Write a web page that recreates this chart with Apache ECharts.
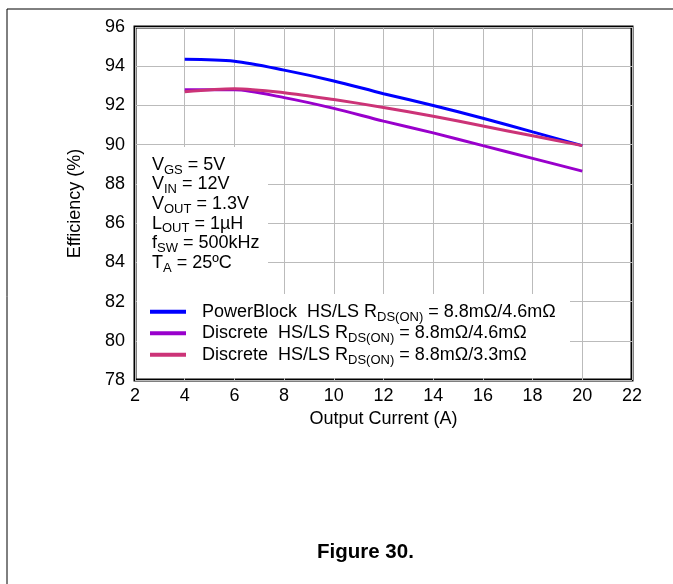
<!DOCTYPE html>
<html>
<head>
<meta charset="utf-8">
<script src="https://cdn.jsdelivr.net/npm/echarts@6/dist/echarts.min.js"></script>
<style>
	html, body { margin: 0; padding: 0; background: #fff; }
	#chart { width: 673px; height: 584px; }
</style>
</head>
<body>
<div id="chart"></div>
<script>
const current = [4, 6, 8, 10, 12, 14, 16, 18, 20];
const powerBlock = [94.35, 94.25, 93.8, 93.25, 92.6, 92.0, 91.35, 90.65, 89.95];
const discrete46 = [92.8, 92.8, 92.4, 91.85, 91.2, 90.6, 89.95, 89.3, 88.65];
const discrete33 = [92.7, 92.85, 92.65, 92.3, 91.9, 91.45, 90.95, 90.45, 89.95];

const seriesNames = ["PowerBlock", "Discrete 4.6", "Discrete 3.3"];
const legendTexts = [
	"PowerBlock  HS/LS R{sub|DS(ON)} = 8.8mΩ/4.6mΩ",
	"Discrete  HS/LS R{sub|DS(ON)} = 8.8mΩ/4.6mΩ",
	"Discrete  HS/LS R{sub|DS(ON)} = 8.8mΩ/3.3mΩ"
];
const conditions = [
	"V{sub|GS} = 5V",
	"V{sub|IN} = 12V",
	"V{sub|OUT} = 1.3V",
	"L{sub|OUT} = 1µH",
	"f{sub|SW} = 500kHz",
	"T{sub|A} = 25ºC"
];

const font = "Liberation Sans, Arial, sans-serif";
const subStyle = lh => ({
	fontSize: 13, fontFamily: font, color: "#000", fill: "#000",
	verticalAlign: "bottom", lineHeight: lh, padding: [0, 0, -2, 0]
});

const chart = echarts.init(document.getElementById("chart"));

const toPairs = ys => current.map((x, i) => [x, ys[i]]);

const option = {
	animation: false,
	grid: {
		left: 135,
		right: 41,
		top: 27,
		bottom: 204,
		show: true,
		borderColor: "#000",
		borderWidth: 3
	},
	xAxis: {
		type: "value",
		min: 2,
		max: 22,
		interval: 2,
		name: "Output Current (A)",
		nameLocation: "middle",
		nameGap: 30,
		nameTextStyle: { fontSize: 18, color: "#000", fontFamily: font },
		axisLine: { show: false },
		axisTick: { show: false },
		axisLabel: { fontSize: 18, color: "#000", fontFamily: font, margin: 7 },
		splitLine: { lineStyle: { color: "#bbbbbb", width: 1 } }
	},
	yAxis: {
		type: "value",
		min: 78,
		max: 96,
		interval: 2,
		name: "Efficiency (%)",
		nameLocation: "middle",
		nameGap: 51,
		nameTextStyle: { fontSize: 18, color: "#000", fontFamily: font },
		axisLine: { show: false },
		axisTick: { show: false },
		axisLabel: { fontSize: 18, color: "#000", fontFamily: font, margin: 10 },
		splitLine: { lineStyle: { color: "#bbbbbb", width: 1 } }
	},
	legend: {
		orient: "vertical",
		left: 150,
		top: 302,
		itemWidth: 36,
		itemHeight: 4,
		itemGap: 0,
		padding: 0,
		z: 5,
		data: seriesNames.map(n => ({ name: n, icon: "rect" })),
		formatter: name => legendTexts[seriesNames.indexOf(name)],
		textStyle: {
			fontSize: 18,
			color: "#000",
			fontFamily: font,
			lineHeight: 19.5,
			padding: [0, 0, 0, 11],
			rich: { sub: subStyle(19.5) }
		}
	},
	graphic: [
		{ type: "line", shape: { x1: 7, y1: 9, x2: 673, y2: 9 }, style: { stroke: "#000", lineWidth: 1 } },
		{ type: "line", shape: { x1: 7, y1: 9, x2: 7, y2: 584 }, style: { stroke: "#000", lineWidth: 1 } },
		{ type: "rect", z: 1, shape: { x: 137, y: 147, width: 131, height: 148 }, style: { fill: "#fff" } },
		{ type: "rect", z: 1, shape: { x: 137, y: 294, width: 433, height: 84 }, style: { fill: "#fff" } },
		{
			type: "text",
			z: 5,
			left: 152,
			top: 155,
			style: {
				text: conditions.join("\n"),
				fontSize: 18,
				fontFamily: font,
				fill: "#000",
				lineHeight: 19.6,
				rich: { sub: subStyle(19.6) }
			}
		},
		{
			type: "text",
			z: 5,
			left: 317,
			top: 542,
			style: {
				text: "Figure 30.",
				fontSize: 20.5,
				fontWeight: "bold",
				fontFamily: font,
				fill: "#000"
			}
		}
	],
	series: [
		{
			name: seriesNames[0],
			type: "line",
			data: toPairs(powerBlock),
			smooth: 0.3,
			showSymbol: false,
			color: "#0000ff",
			lineStyle: { width: 3, color: "#0000ff" },
			z: 4
		},
		{
			name: seriesNames[1],
			type: "line",
			data: toPairs(discrete46),
			smooth: 0.3,
			showSymbol: false,
			color: "#9900cc",
			lineStyle: { width: 3, color: "#9900cc" },
			z: 3
		},
		{
			name: seriesNames[2],
			type: "line",
			data: toPairs(discrete33),
			smooth: 0.3,
			showSymbol: false,
			color: "#cc3377",
			lineStyle: { width: 3, color: "#cc3377" },
			z: 4
		}
	]
};

chart.setOption(option);
window.onresize = chart.resize;
</script>
</body>
</html>
